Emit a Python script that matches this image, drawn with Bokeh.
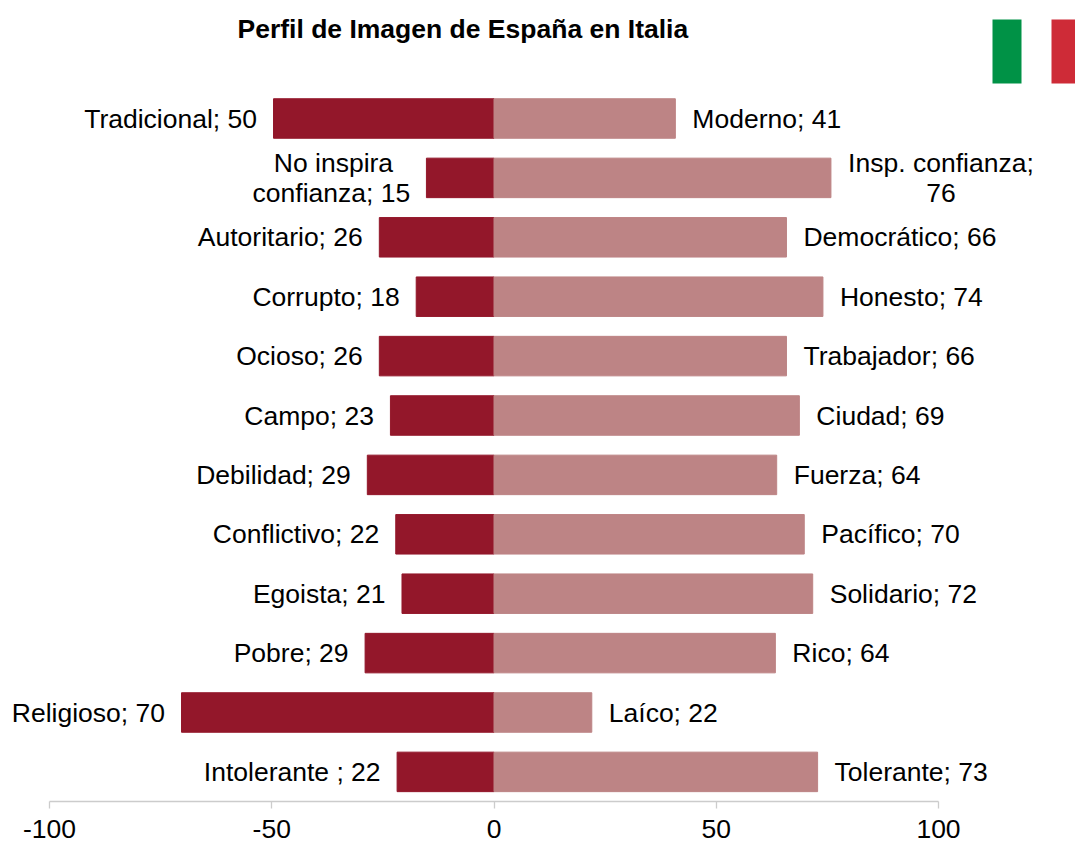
from bokeh.plotting import figure
from bokeh.models import Range1d, ColumnDataSource, Label, FixedTicker
from bokeh.embed import file_html
from bokeh.resources import INLINE

left_names = ["Tradicional; 50", "No inspira\nconfianza; 15", "Autoritario; 26", "Corrupto; 18", "Ocioso; 26", "Campo; 23",
              "Debilidad; 29", "Conflictivo; 22", "Egoista; 21", "Pobre; 29", "Religioso; 70", "Intolerante ; 22"]
right_names = ["Moderno; 41", "Insp. confianza;\n76", "Democrático; 66", "Honesto; 74", "Trabajador; 66", "Ciudad; 69",
               "Fuerza; 64", "Pacífico; 70", "Solidario; 72", "Rico; 64", "Laíco; 22", "Tolerante; 73"]
left_vals = [49.6, 15.2, 25.8, 17.5, 25.8, 23.3, 28.5, 22.1, 20.7, 29, 70.3, 21.8]
right_vals = [40.8, 75.8, 65.8, 74, 65.8, 68.7, 63.6, 69.8, 71.7, 63.3, 22, 72.8]
ticks = [-100, -50, 0, 50, 100]
tick_labels = {-100: "-100", -50: "-50", 0: "0", 50: "50", 100: "100"}

W, H = 1075, 843
FONT = "Liberation Sans"
FS = "26.5px"
px_x = 889 / 200          # pixels per x unit
px_y = 59.4               # pixels per category
x0_px = 49                # px of x=-100
axis_px = 801             # px of axis line
first_px = 118            # px of first bar centre

x_start = -100 - x0_px / px_x
x_end = x_start + W / px_x
y_end = 0.5 - first_px / px_y
y_start = y_end + axis_px / px_y


def dx(page_px):
    return x_start + page_px / px_x


def dy(page_px):
    return y_end + page_px / px_y


p = figure(width=W, height=H, output_backend="svg", toolbar_location=None,
           x_range=Range1d(x_start, x_end), y_range=Range1d(y_start, y_end),
           min_border_left=0, min_border_right=0, min_border_top=0, min_border_bottom=H - axis_px)
n = len(left_vals)
ys = [i + 0.5 for i in range(n)]
src = ColumnDataSource(dict(y=ys, l=[-v for v in left_vals], r=right_vals, z=[0] * n))
p.hbar(y="y", left="l", right="z", height=0.665, color="#93172A", source=src)
p.hbar(y="y", left="z", right="r", height=0.665, color="#BD8485", source=src)


def lab(x, y, t, off, align, yoff=0):
    p.add_layout(Label(x=x, y=y, text=t, x_offset=off, y_offset=yoff, text_align=align, text_baseline="middle",
                       text_font=FONT, text_font_size=FS, text_color="#000000"))


for i in range(n):
    ln = left_names[i].split("\n")
    rn = right_names[i].split("\n")
    if len(ln) == 1:
        lab(-left_vals[i], ys[i], ln[0], -16.5, "right")
    else:
        lab(-left_vals[i], ys[i], ln[0], -93, "center", 15)
        lab(-left_vals[i], ys[i], ln[1], -95, "center", -15)
    if len(rn) == 1:
        lab(right_vals[i], ys[i], rn[0], 17, "left")
    else:
        lab(right_vals[i], ys[i], rn[0], 110, "center", 15)
        lab(right_vals[i], ys[i], rn[1], 110, "center", -15)

p.xaxis.ticker = FixedTicker(ticks=ticks)
p.xaxis.major_label_overrides = tick_labels
p.xaxis.bounds = (-100, 100)
p.xaxis.axis_line_color = "#CCCCCC"
p.xaxis.axis_line_width = 1.3
p.xaxis.major_tick_line_color = "#CCCCCC"
p.xaxis.major_tick_line_width = 1.3
p.xaxis.major_tick_in = 0
p.xaxis.major_tick_out = 7
p.xaxis.minor_tick_line_color = None
p.xaxis.major_label_text_font = FONT
p.xaxis.major_label_text_font_size = FS
p.xaxis.major_label_text_color = "#000000"
p.xaxis.major_label_standoff = 11
p.yaxis.visible = False
p.grid.visible = False
p.outline_line_color = None
p.background_fill_color = None
p.border_fill_color = "white"

p.add_layout(Label(x=dx(237), y=dy(28), text="Perfil de Imagen de España en Italia",
                   text_font=FONT, text_font_style="bold", text_font_size="26.5px",
                   text_align="left", text_baseline="middle", text_color="#000000"))

# Italian flag
p.quad(left=[dx(992)], right=[dx(1021)], top=[dy(19)], bottom=[dy(83)], color="#009246", line_color=None)
p.quad(left=[dx(1051)], right=[dx(1076)], top=[dy(19)], bottom=[dy(83)], color="#CE2B37", line_color=None)

open("out.html", "w").write(file_html(p, INLINE))
